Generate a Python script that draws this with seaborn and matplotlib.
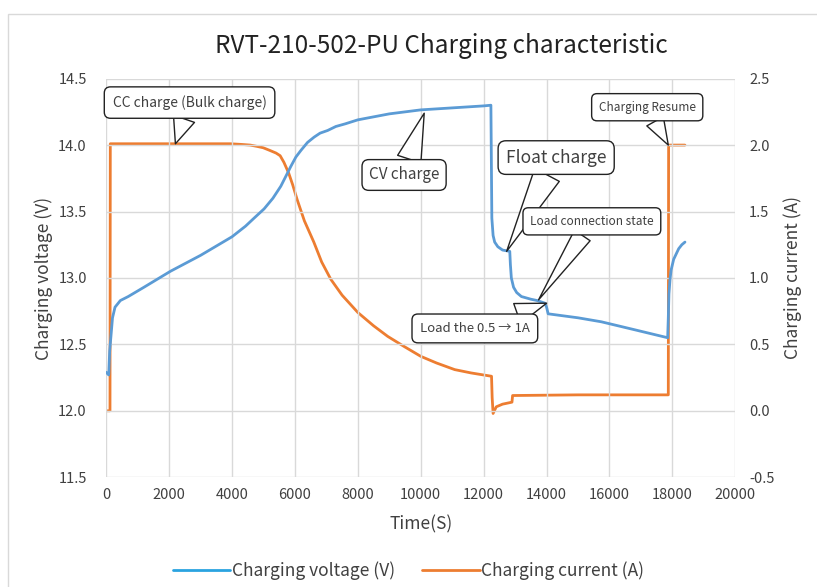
import matplotlib
matplotlib.use("Agg")
import matplotlib.pyplot as plt
import seaborn as sns
from matplotlib.lines import Line2D
from matplotlib.patches import Rectangle

# time (s) and charging voltage (V)
t_volt = [0, 80, 110, 150, 200, 280, 450, 700, 1200, 2040, 3000, 4000, 4430, 4700,
          5020, 5300, 5550, 5700, 5870, 6030, 6190, 6400, 6610, 6800, 7040, 7300,
          7600, 8000, 9000, 10000, 11000, 12000, 12230, 12260, 12300, 12350, 12450,
          12600, 12830, 12850, 12880, 12950, 13050, 13200, 13500, 13700, 13950,
          14000, 14050, 15000, 15740, 16800, 17850, 17870, 17890, 17925, 17960,
          18040, 18100, 18200, 18300, 18400]
volt = [12.29, 12.27, 12.45, 12.56, 12.70, 12.78, 12.83, 12.86, 12.93, 13.05, 13.17,
        13.31, 13.39, 13.45, 13.52, 13.60, 13.69, 13.76, 13.84, 13.91, 13.96, 14.02,
        14.06, 14.09, 14.11, 14.14, 14.16, 14.19, 14.235, 14.265, 14.28, 14.295,
        14.30, 13.45, 13.32, 13.27, 13.235, 13.21, 13.20, 13.10, 13.00, 12.93,
        12.89, 12.86, 12.84, 12.83, 12.81, 12.78, 12.73, 12.70, 12.67, 12.61,
        12.55, 12.70, 12.88, 12.99, 13.06, 13.14, 13.17, 13.22, 13.25, 13.27]

# time (s) and charging current (A)
t_curr = [0, 120, 130, 1000, 2000, 3000, 3950, 4300, 4580, 4800, 4990, 5200, 5400,
          5530, 5650, 5800, 5930, 6070, 6300, 6600, 6850, 7140, 7500, 8000, 8500,
          8950, 9500, 10000, 10500, 11080, 11600, 12250, 12270, 12300, 12400,
          12600, 12900, 12920, 15000, 17000, 17870, 17880, 18100, 18400]
curr = [0.0, 0.0, 2.01, 2.01, 2.01, 2.01, 2.01, 2.005, 2.00, 1.99, 1.98, 1.96, 1.94,
        1.92, 1.87, 1.79, 1.70, 1.59, 1.43, 1.27, 1.12, 0.99, 0.87, 0.74, 0.64,
        0.56, 0.48, 0.41, 0.36, 0.31, 0.285, 0.26, 0.10, -0.02, 0.03, 0.05, 0.065,
        0.115, 0.12, 0.12, 0.12, 2.00, 2.00, 2.00]

# callouts: text, text position (s, V), pointed position (s, V), font size
notes = [
    ("CC charge (Bulk charge)", (2650, 14.32), (2200, 14.01), 10),
    ("CV charge", (9470, 13.775), (10110, 14.24), 11),
    ("Float charge", (14305, 13.906), (12730, 13.20), 12.5),
    ("Load connection state", (15440, 13.426), (13745, 12.835), 8.5),
    ("Load the 0.5 \u2192 1A", (11720, 12.62), (14000, 12.81), 9.5),
    ("Charging Resume", (17200, 14.285), (17870, 14.0), 8.5),
]

c_volt = "#5B9BD5"
c_curr = "#ED7D31"

sns.set_style("whitegrid")
plt.rcParams["font.family"] = ["Noto Sans CJK JP", "DejaVu Sans"]

fig = plt.figure(figsize=(8.17, 5.87), dpi=100)
ax = fig.add_axes([0.130, 0.187, 0.770, 0.679])
ax2 = ax.twinx()

sns.lineplot(x=t_volt, y=volt, ax=ax, color=c_volt, lw=2, estimator=None, sort=False)
sns.lineplot(x=t_curr, y=curr, ax=ax2, color=c_curr, lw=2, estimator=None, sort=False)

ax.set_xlim(0, 20000)
ax.set_ylim(11.5, 14.5)
ax2.set_ylim(-0.5, 2.5)
ax.set_xticks(range(0, 20001, 2000))
ax.set_yticks([11.5, 12.0, 12.5, 13.0, 13.5, 14.0, 14.5])
ax.set_yticklabels([f"{v:.1f}" for v in ax.get_yticks()])
ax2.set_yticks([-0.5, 0.0, 0.5, 1.0, 1.5, 2.0, 2.5])
ax2.set_yticklabels([f"{v:.1f}" for v in ax2.get_yticks()])
ax2.grid(False)
ax.grid(True, color="#D9D9D9", lw=1)
for a in (ax, ax2):
    for s in a.spines.values():
        s.set_visible(False)
    a.tick_params(length=0, labelsize=10.5, colors="#404040")
ax.tick_params(axis="y", pad=14)
ax.tick_params(axis="x", pad=8)
ax2.tick_params(axis="y", pad=10)

ax.set_xlabel("Time(S)", fontsize=12.5, color="#404040", labelpad=9)
ax.set_ylabel("Charging voltage (V)", fontsize=12.5, color="#404040", labelpad=4)
ax2.set_ylabel("Charging current (A)", fontsize=12.5, color="#404040", labelpad=6)
fig.suptitle("RVT-210-502-PU Charging characteristic", fontsize=17.5, color="#222222",
             x=0.54, y=0.943)

ax2.set_zorder(1)
ax.set_zorder(2)
ax.patch.set_visible(False)

for text, txy, pxy, fs in notes:
    pad = 0.45 if fs >= 11 else 0.6
    ax.annotate(text, xy=pxy, xytext=txy, ha="center", va="center", fontsize=fs,
                color="#404040",
                bbox=dict(boxstyle=f"round,pad={pad},rounding_size=0.45", fc="white",
                          ec="#222222", lw=1),
                arrowprops=dict(arrowstyle="wedge,tail_width=1.6,shrink_factor=0.5",
                                fc="white", ec="#222222", lw=1, shrinkA=0, shrinkB=0),
                zorder=5)

handles = [Line2D([], [], color="#2AA3E0", lw=2),
           Line2D([], [], color=c_curr, lw=2)]
fig.legend(handles, ["Charging voltage (V)", "Charging current (A)"], loc="center",
           bbox_to_anchor=(0.5, 0.027), ncol=2, frameon=False, fontsize=12.5,
           handlelength=3.3, handletextpad=0.1, columnspacing=1.6,
           labelcolor="#404040")

fig.patches.append(Rectangle((0.010, -0.1), 1.2, 1.076, transform=fig.transFigure,
                             fill=False, ec="#D9D9D9", lw=1))

fig.savefig("out.png", dpi=100)
